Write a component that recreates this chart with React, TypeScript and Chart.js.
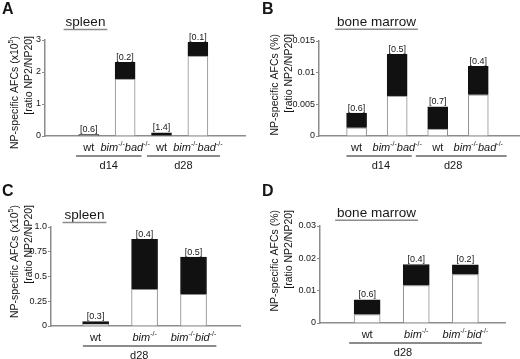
import React, { useEffect, useRef } from 'react';
import { Chart, registerables } from 'chart.js';

Chart.register(...registerables);
Chart.defaults.font.family = '"Liberation Sans", Arial, Helvetica, sans-serif';

// ---------- DATA ----------
// Panel A – spleen, d14 / d28
const categoriesA = ['wt', 'bim-/-bad-/-', 'wt', 'bim-/-bad-/-'];
const whiteA = [0.01, 1.78, 0, 2.5];
const blackA = [0.035, 0.52, 0.1, 0.43];
const ratiosA = ['[0.6]', '[0.2]', '[1.4]', '[0.1]'];
const yTicksA = [0, 1, 2, 3];
const yTickLabelsA = ['0', '1', '2', '3'];
const groupsA = ['d14', 'd28'];

// Panel B – bone marrow, d14 / d28
const categoriesB = ['wt', 'bim-/-bad-/-', 'wt', 'bim-/-bad-/-'];
const whiteB = [0.0013, 0.0063, 0.0011, 0.0065];
const blackB = [0.0023, 0.0066, 0.0035, 0.0045];
const ratiosB = ['[0.6]', '[0.5]', '[0.7]', '[0.4]'];
const yTicksB = [0, 0.005, 0.01, 0.015];
const yTickLabelsB = ['0', '0.005', '0.01', '0.015'];
const groupsB = ['d14', 'd28'];

// Panel C – spleen, d28
const categoriesC = ['wt', 'bim-/-', 'bim-/-bid-/-'];
const whiteC = [0.02, 0.37, 0.32];
const blackC = [0.024, 0.505, 0.375];
const ratiosC = ['[0.3]', '[0.4]', '[0.5]'];
const yTicksC = [0, 0.25, 0.5, 0.75, 1];
const yTickLabelsC = ['0', '0.25', '0.5', '0.75', '1.0'];
const groupsC = ['d28'];

// Panel D – bone marrow, d28
const categoriesD = ['wt', 'bim-/-', 'bim-/-bid-/-'];
const whiteD = [0.0026, 0.0116, 0.015];
const blackD = [0.0046, 0.0065, 0.003];
const ratiosD = ['[0.6]', '[0.4]', '[0.2]'];
const yTicksD = [0, 0.01, 0.02, 0.03];
const yTickLabelsD = ['0', '0.01', '0.02', '0.03'];
const groupsD = ['d28'];

const yTitleSpleen = 'NP-specific AFCs (x10^5)';
const yTitleMarrow = 'NP-specific AFCs (%)';
const yTitleRatio = '[ratio NP2/NP20]';

// ---------- LAYOUT / STYLE ----------
const FONT = '"Liberation Sans", Arial, Helvetica, sans-serif';
const GREY = '#8c8c8c';
const INK = '#161616';

type Seg = { t: string; i?: boolean; sup?: boolean };

function parseGenotype(label: string): Seg[] {
  if (label === 'wt') return [{ t: 'wt' }];
  return label
    .split(/(-\/-)/)
    .filter((s) => s.length > 0)
    .map((s) => (s === '-/-' ? { t: s, sup: true } : { t: s, i: true }));
}

function parseSup(text: string): Seg[] {
  return text
    .split(/\^(\S)/)
    .map((s, idx) => (idx % 2 === 1 ? { t: s, sup: true } : { t: s }))
    .filter((s) => s.t.length > 0);
}

function segFont(s: Seg, size: number) {
  const sz = s.sup ? Math.round(size * 0.68) : size;
  return `${s.i ? 'italic ' : ''}${sz}px ${FONT}`;
}

function drawRich(ctx: CanvasRenderingContext2D, segs: Seg[], x: number, y: number, size: number, align: 'left' | 'center' | 'right') {
  let total = 0;
  const items = segs.map((s) => {
    ctx.font = segFont(s, size);
    const w = ctx.measureText(s.t).width;
    total += w;
    return { s, w };
  });
  let cx = align === 'center' ? x - total / 2 : align === 'right' ? x - total : x;
  ctx.textAlign = 'left';
  for (const it of items) {
    ctx.font = segFont(it.s, size);
    ctx.fillText(it.s.t, cx, it.s.sup ? y - size * 0.42 : y);
    cx += it.w;
  }
}

type Panel = {
  letter: string;
  title: string;
  yTitle1: string;
  categories: string[];
  white: number[];
  black: number[];
  ratios: string[];
  ticks: number[];
  tickLabels: string[];
  groups: string[];
  lay: {
    w: number; h: number; left: number; top: number; right: number; bottom: number;
    xMin: number; xMax: number; bar: number;
    titleX: number; titleBase: number; letterBase: number; yTitleTop: number; yTitleX1: number; yTitleX2: number;
    groupSpans: number[][]; groupTextAt: number[];
  };
};

const panels: Panel[] = [
  {
    letter: 'A', title: 'spleen', yTitle1: yTitleSpleen,
    categories: categoriesA, white: whiteA, black: blackA, ratios: ratiosA,
    ticks: yTicksA, tickLabels: yTickLabelsA, groups: groupsA,
    lay: {
      w: 260, h: 180, left: 45, top: 40, right: 245, bottom: 136,
      xMin: -0.515, xMax: 3.608, bar: 20,
      titleX: 85.5, titleBase: 26, letterBase: 13.5, yTitleTop: 36, yTitleX1: 15, yTitleX2: 29,
      groupSpans: [[-0.35, 1.45], [1.6, 3.608]], groupTextAt: [0.55, 2.6],
    },
  },
  {
    letter: 'B', title: 'bone marrow', yTitle1: yTitleMarrow,
    categories: categoriesB, white: whiteB, black: blackB, ratios: ratiosB,
    ticks: yTicksB, tickLabels: yTickLabelsB, groups: groupsB,
    lay: {
      w: 260, h: 180, left: 59, top: 41, right: 260, bottom: 136,
      xMin: -0.514, xMax: 3.616, bar: 20,
      titleX: 116.5, titleBase: 25.7, letterBase: 13.5, yTitleTop: 34, yTitleX1: 15.5, yTitleX2: 29,
      groupSpans: [[-0.25, 1.36], [1.46, 3.7]], groupTextAt: [0.6, 2.38],
    },
  },
  {
    letter: 'C', title: 'spleen', yTitle1: yTitleSpleen,
    categories: categoriesC, white: whiteC, black: blackC, ratios: ratiosC,
    ticks: yTicksC, tickLabels: yTickLabelsC, groups: groupsC,
    lay: {
      w: 260, h: 179, left: 51, top: 47, right: 240, bottom: 146,
      xMin: -0.429, xMax: 2.467, bar: 26,
      titleX: 84.5, titleBase: 39, letterBase: 16, yTitleTop: 25, yTitleX1: 15, yTitleX2: 29,
      groupSpans: [[-0.26, 2.467]], groupTextAt: [0.89],
    },
  },
  {
    letter: 'D', title: 'bone marrow', yTitle1: yTitleMarrow,
    categories: categoriesD, white: whiteD, black: blackD, ratios: ratiosD,
    ticks: yTicksD, tickLabels: yTickLabelsD, groups: groupsD,
    lay: {
      w: 260, h: 179, left: 60, top: 46, right: 245, bottom: 143,
      xMin: -0.489, xMax: 2.336, bar: 26,
      titleX: 116.5, titleBase: 36.7, letterBase: 16, yTitleTop: 30, yTitleX1: 15.5, yTitleX2: 29,
      groupSpans: [[-0.366, 2.336]], groupTextAt: [0.73],
    },
  },
];

function makeDecor(p: Panel) {
  return {
    id: 'decor' + p.letter,
    afterDraw(chart: any) {
      const ctx: CanvasRenderingContext2D = chart.ctx;
      const xs = chart.scales.x;
      const area = chart.chartArea;
      const L = p.lay;
      ctx.save();
      ctx.fillStyle = INK;
      ctx.textBaseline = 'alphabetic';

      // panel letter
      ctx.font = `bold 16px ${FONT}`;
      ctx.textAlign = 'left';
      ctx.fillText(p.letter, 2, L.letterBase);

      // title + underline
      ctx.font = `13.5px ${FONT}`;
      ctx.textAlign = 'center';
      ctx.fillText(p.title, L.titleX, L.titleBase);
      const tw = ctx.measureText(p.title).width;
      ctx.strokeStyle = GREY;
      ctx.lineWidth = 1.5;
      ctx.beginPath();
      ctx.moveTo(L.titleX - tw / 2 - 2, L.titleBase + 3.5);
      ctx.lineTo(L.titleX + tw / 2 + 2, L.titleBase + 3.5);
      ctx.stroke();

      // rotated y title (two lines, end aligned at top)
      ctx.textBaseline = 'middle';
      ctx.save();
      ctx.translate(L.yTitleX1, L.yTitleTop);
      ctx.rotate(-Math.PI / 2);
      drawRich(ctx, parseSup(p.yTitle1), 0, 0, 10.5, 'right');
      ctx.restore();
      ctx.save();
      ctx.translate(L.yTitleX2, L.yTitleTop);
      ctx.rotate(-Math.PI / 2);
      drawRich(ctx, [{ t: yTitleRatio }], 0, 0, 10.5, 'right');
      ctx.restore();

      // ratio labels on top of bars
      ctx.textBaseline = 'bottom';
      ctx.font = `9px ${FONT}`;
      ctx.textAlign = 'center';
      const top = chart.getDatasetMeta(1).data;
      top.forEach((el: any, i: number) => {
        ctx.fillText(p.ratios[i], el.x, el.y - 0.5);
      });

      // category labels
      ctx.textBaseline = 'alphabetic';
      p.categories.forEach((c, i) => {
        drawRich(ctx, parseGenotype(c), xs.getPixelForValue(i), area.bottom + 15, 11, 'center');
      });

      // group lines + labels
      const gy = area.bottom + 20;
      p.groups.forEach((g, gi) => {
        const [a, b] = L.groupSpans[gi];
        ctx.strokeStyle = GREY;
        ctx.lineWidth = 2;
        ctx.beginPath();
        ctx.moveTo(xs.getPixelForValue(a), gy);
        ctx.lineTo(xs.getPixelForValue(b), gy);
        ctx.stroke();
        ctx.font = `11px ${FONT}`;
        ctx.textAlign = 'center';
        ctx.fillText(g, xs.getPixelForValue(L.groupTextAt[gi]), gy + 13);
      });
      ctx.restore();
    },
  };
}

function PanelChart({ p, x, y }: { p: Panel; x: number; y: number }) {
  const ref = useRef<HTMLCanvasElement | null>(null);
  useEffect(() => {
    if (!ref.current) return;
    const L = p.lay;
    const yMax = p.ticks[p.ticks.length - 1];
    const chart = new Chart(ref.current, {
      type: 'bar',
      data: {
        datasets: [
          {
            data: p.white.map((v, i) => ({ x: i, y: v })),
            backgroundColor: '#ffffff',
            borderColor: GREY,
            borderWidth: 1,
            borderSkipped: 'start',
            barThickness: L.bar,
          },
          {
            data: p.black.map((v, i) => ({ x: i, y: v })),
            backgroundColor: '#111111',
            borderColor: '#111111',
            borderWidth: 1,
            borderSkipped: 'start',
            barThickness: L.bar,
          },
        ],
      } as any,
      options: {
        responsive: false,
        animation: false,
        events: [],
        layout: {
          padding: { left: L.left - 30, top: L.top, right: L.w - L.right, bottom: L.h - L.bottom },
        },
        plugins: { legend: { display: false }, tooltip: { enabled: false } },
        scales: {
          x: {
            type: 'linear',
            stacked: true,
            bounds: 'data',
            min: L.xMin,
            max: L.xMax,
            grid: { display: false },
            ticks: { display: false },
            border: { display: true, color: GREY, width: 1.5 },
            afterFit: (s: any) => { s.height = 0; },
          },
          y: {
            stacked: true,
            min: 0,
            max: yMax,
            afterBuildTicks: (s: any) => { s.ticks = p.ticks.map((v) => ({ value: v })); },
            ticks: {
              callback: (_v: any, i: number) => p.tickLabels[i],
              font: { size: 9 },
              color: INK,
              padding: 1,
            },
            grid: { display: true, drawOnChartArea: false, drawTicks: true, tickLength: 3, color: GREY, lineWidth: 1 },
            border: { display: true, color: GREY, width: 1.5 },
            afterFit: (s: any) => { s.width = 30; },
          },
        },
      } as any,
      plugins: [makeDecor(p)],
    });
    return () => chart.destroy();
  }, [p]);
  return (
    <canvas
      ref={ref}
      width={p.lay.w}
      height={p.lay.h}
      style={{ position: 'absolute', left: x, top: y, width: p.lay.w, height: p.lay.h }}
    />
  );
}

export default function App() {
  return (
    <div style={{ position: 'fixed', left: 0, top: 0, width: 520, height: 359, background: '#fff', overflow: 'hidden' }}>
      <PanelChart p={panels[0]} x={0} y={0} />
      <PanelChart p={panels[1]} x={260} y={0} />
      <PanelChart p={panels[2]} x={0} y={180} />
      <PanelChart p={panels[3]} x={260} y={180} />
    </div>
  );
}
